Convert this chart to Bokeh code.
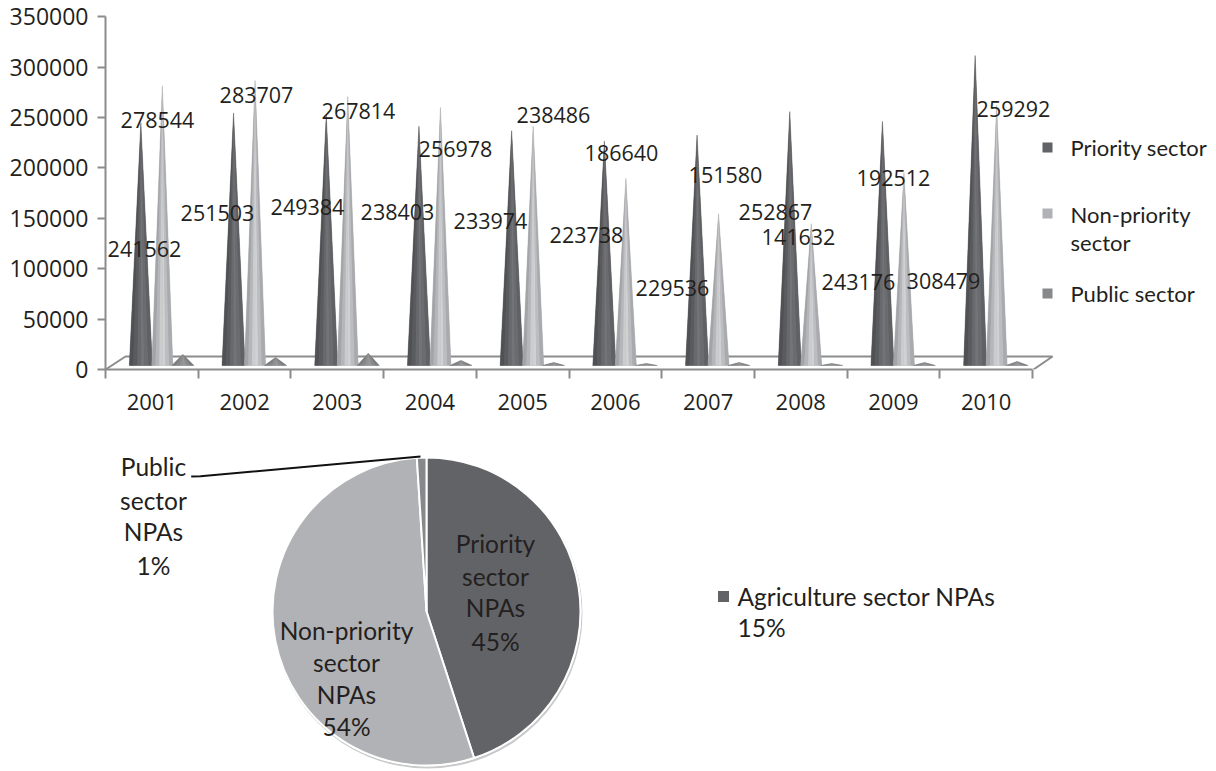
from bokeh.plotting import figure
from bokeh.layouts import column
from bokeh.models import Range1d, FixedTicker
from bokeh.core.properties import value
from bokeh.embed import file_html
from bokeh.resources import INLINE
import math

years = ["2001","2002","2003","2004","2005","2006","2007","2008","2009","2010"]
priority = [241562,251503,249384,238403,233974,223738,229536,252867,243176,308479]
non_priority = [278544,283707,267814,256978,238486,186640,151580,141632,192512,259292]
public = [12000,9000,13000,6000,4000,3000,4000,3000,4000,5000]
y_ticks = [0,50000,100000,150000,200000,250000,300000,350000]
legend_names = [["Priority sector"],["Non-priority","sector"],["Public sector"]]

pie_values = [45,54,1]
pie_labels = [["Priority","sector","NPAs","45%"],["Non-priority","sector","NPAs","54%"],["Public","sector","NPAs","1%"]]

DARK, LIGHT, MID = "#626366", "#b1b2b5", "#87888a"
INK = "#231f20"
FONT = "Open Sans"
PX_X = 92.7
PX_Y = 992.0
WIDTH = 1214
def dx(px): return (px-105)/PX_X
def dy(py): return (369-py)*PX_Y

p = figure(width=WIDTH, height=419, output_backend="svg", toolbar_location=None,
           x_range=Range1d(0,(WIDTH-105)/PX_X), y_range=Range1d(0,369*PX_Y),
           min_border_left=105, min_border_right=0, min_border_top=0, min_border_bottom=50)
p.outline_line_color=None
p.grid.visible=False

xa=p.xaxis[0]; ya=p.yaxis[0]
centers=[i+0.5 for i in range(10)]
xa.ticker=FixedTicker(ticks=centers, minor_ticks=list(range(11)))
xa.major_label_overrides={c:y for c,y in zip(centers,years)}
xa.major_tick_in=0; xa.major_tick_out=0
xa.minor_tick_in=0; xa.minor_tick_out=9
xa.minor_tick_line_color="#8c8c8c"; xa.minor_tick_line_width=2
xa.axis_line_color="#8c8c8c"; xa.axis_line_width=2
xa.bounds=(0,10)
xa.major_label_standoff=15
xa.major_label_text_font=FONT; xa.major_label_text_font_size="22px"; xa.major_label_text_color=INK
ya.ticker=FixedTicker(ticks=y_ticks)
ya.bounds=(0,350000)
ya.major_tick_in=0; ya.major_tick_out=8
ya.minor_tick_in=0; ya.minor_tick_out=0
ya.major_tick_line_color="#8c8c8c"; ya.major_tick_line_width=2
ya.axis_line_color="#8c8c8c"; ya.axis_line_width=2
ya.major_label_standoff=9
ya.formatter.use_scientific=False
ya.major_label_text_font=FONT; ya.major_label_text_font_size="23px"; ya.major_label_text_color=INK

# floor of the 3D box
p.line([dx(105),dx(125),dx(1052),dx(1033)],[dy(369),dy(356),dy(356),dy(369)],line_color="#8c8c8c",line_width=2)

strips=[(-1,-.65),(-.65,-.3),(-.3,0),(0,.3),(.3,.65),(.65,1)]
dark_sh=["#505154","#5a5b5e","#68696c","#737477","#6b6c6f","#606164"]
light_sh=["#a3a4a7","#b5b6b9","#cbccce","#d0d1d3","#bcbdc0","#a9aaad"]
mid_sh=["#7c7d7f","#86878a","#919294","#97989a","#8a8b8d","#7c7d7f"]
BASE=4000; SHIFT=3000
def cones(vals,off,half,shades,under):
    xs,ys,cs,ux,uy=[],[],[],[],[]
    for i,v in enumerate(vals):
        c=i+0.5+off/PX_X
        ux.append([c-half/PX_X,c,c+half/PX_X]); uy.append([BASE,v+SHIFT,BASE])
        for (a,b),col in zip(strips,shades):
            xs.append([c+a*half/PX_X,c,c+b*half/PX_X])
            ys.append([BASE,v+SHIFT,BASE]); cs.append(col)
    p.patches(ux,uy,fill_color=under,line_color=under,line_width=0.5)
    p.patches(xs,ys,fill_color=cs,line_color=None)
cones(priority,-11,11.5,dark_sh,DARK)
cones(non_priority,10.5,10.5,light_sh,LIGHT)
cones(public,31,11,mid_sh,MID)

# data labels (page pixels of each label centre)
prio_lx=[144,217,307,397,490,586,672,775,858,943]
prio_ly=[248,212,206,211,220,234,287,211,281,280]
non_lx=[157,256,358,455,553,621,725,798,893,1013]
non_ly=[119,94,110,148,114,152,174,236,177,108]
for vals,lx,ly in ((priority,prio_lx,prio_ly),(non_priority,non_lx,non_ly)):
    p.text([dx(v) for v in lx],[dy(v) for v in ly],text=[str(v) for v in vals],
           text_font=value(FONT),text_font_size="21.5px",text_color=INK,
           text_align="center",text_baseline="middle")

# legend
leg_y=[[147],[214,242],[293]]
for names,ys,col,my in zip(legend_names,leg_y,[DARK,LIGHT,MID],[147,213,293]):
    p.scatter([dx(1047)],[dy(my)],marker="square",size=10,fill_color=col,line_color=None)
    p.text([dx(1070)]*len(names),[dy(v) for v in ys],text=names,text_font=value("Lato"),
           text_font_size="22px",text_color=INK,text_align="left",text_baseline="middle")

# pie (frame is aligned with the chart above, so keep the same left border)
TOP=419; H=350
q=figure(width=WIDTH,height=H,output_backend="svg",toolbar_location=None,
         x_range=Range1d(105,WIDTH),y_range=Range1d(0,H),
         min_border_left=105,min_border_right=0,min_border_top=0,min_border_bottom=0,
         x_axis_location=None,y_axis_location=None)
q.outline_line_color=None
q.grid.visible=False
def ry(py): return TOP+H-py
CX,CY,R=426,611,154
q.circle([CX+1],[ry(CY+2)],radius=R+1,fill_color="#c9c9cb",line_color=None)
q.circle([CX],[ry(CY)],radius=R+1,fill_color="#ffffff",line_color=None)
ang=math.pi/2
for v,col in zip(pie_values,[DARK,LIGHT,MID]):
    nxt=ang-v/100*2*math.pi
    q.wedge([CX],[ry(CY)],radius=R,start_angle=nxt,end_angle=ang,fill_color=col,line_color="#ffffff",line_width=2)
    ang=nxt
q.line([190.7,200,420],[ry(476),ry(475.7),ry(456)],line_color="#111111",line_width=2)
pl_x=[495,346,153]
pl_y=[[543,576,607,641],[630,662,694,726],[466,500,531,565]]
for names,x0,ys in zip(pie_labels,pl_x,pl_y):
    q.text([x0]*4,[ry(v) for v in ys],text=names,text_font=value("Lato"),text_font_size="24.5px",
           text_color=INK,text_align="center",text_baseline="middle")
q.scatter([723],[ry(596)],marker="square",size=11,fill_color=DARK,line_color=None)
q.text([737,737],[ry(596),ry(627)],text=["Agriculture sector NPAs","15%"],text_font=value("Lato"),
       text_font_size="24.5px",text_color=INK,text_align="left",text_baseline="middle")

open("out.html","w").write(file_html(column(p,q,spacing=0),INLINE))
